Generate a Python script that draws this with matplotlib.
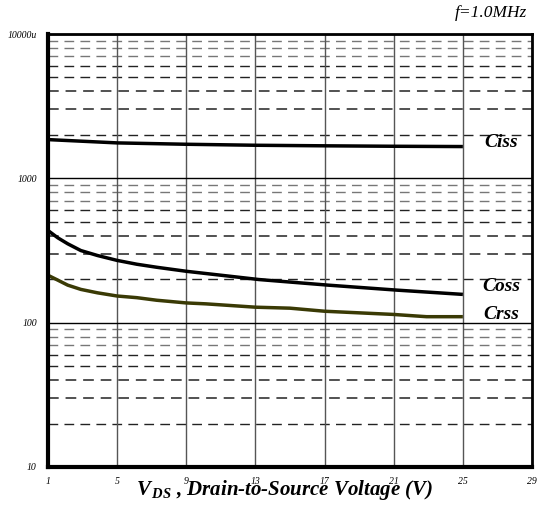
import matplotlib
matplotlib.use("Agg")
import matplotlib.pyplot as plt
import numpy as np
from matplotlib.ticker import FixedLocator, NullFormatter

plt.rcParams['mathtext.fontset'] = 'custom'
plt.rcParams['mathtext.it'] = 'Liberation Serif:italic:bold'
plt.rcParams['mathtext.rm'] = 'Liberation Serif:italic:bold'

# Data
vds_ciss = [1, 5, 9, 13, 17, 21, 25]
ciss = [1855, 1760, 1722, 1695, 1680, 1668, 1660]

vds_coss = [1, 1.57, 2.14, 2.9, 3.86, 5, 6.14, 7.29, 9, 10.14, 13.2, 17.2, 21.2, 25]
coss = [435, 387, 352, 316, 292, 270, 254, 242, 227, 219, 199, 182, 168, 157]

vds_crss = [1, 1.57, 2.14, 2.9, 3.86, 5, 6.14, 7.29, 9, 10.14, 13, 15, 17, 21, 22.9, 25]
crss = [213, 197, 182, 170, 161, 153, 149, 143, 137, 135, 128, 126, 120, 114, 110, 110]

x_ticks = [1, 5, 9, 13, 17, 21, 25, 29]
y_major = [10, 100, 1000, 10000]
y_labels = ['10', '100', '1000', '10000u']

fig = plt.figure(figsize=(5.47, 5.07), dpi=100)
ax = fig.add_axes([48/547, 1-467/507, (532-48)/547, (467-34)/507])
ax.set_yscale('log')
ax.set_xlim(1, 29)
ax.set_ylim(10, 10000)

serif = 'Liberation Serif'

ax.set_xticks(x_ticks)
ax.set_xticklabels([str(v) for v in x_ticks], fontfamily=serif, fontstyle='italic', fontsize=7)
ax.set_yticks(y_major)
ax.set_yticklabels(y_labels, fontfamily=serif, fontstyle='italic', fontsize=7)
ax.yaxis.set_minor_locator(FixedLocator([m * d for d in [10, 100, 1000] for m in range(2, 10)]))
ax.yaxis.set_minor_formatter(NullFormatter())
ax.tick_params(axis='both', which='both', length=0)
ax.tick_params(axis='x', pad=7)
ax.tick_params(axis='y', pad=8)

# grids
ax.xaxis.grid(True, which='major', color='#555555', linewidth=1.0, linestyle='-')
ax.yaxis.grid(True, which='major', color='black', linewidth=1.0, linestyle='-')
for val in ax.yaxis.get_minorticklocs():
    lead = round(val / 10 ** np.floor(np.log10(val) + 1e-9))
    if lead >= 7:
        ax.axhline(val, color='#777777', linewidth=1.0, linestyle=(0, (7, 4.5)), zorder=0.5)
    else:
        ax.axhline(val, color='#222222', linewidth=1.1 if lead in (3, 4) else 1.0,
                   linestyle=(0, (7, 4.5)), zorder=0.5)
ax.set_axisbelow(True)

for side, lw in [('left', 3), ('bottom', 3), ('top', 2), ('right', 2)]:
    ax.spines[side].set_linewidth(lw)
    ax.spines[side].set_color('black')

ax.plot(vds_ciss, ciss, color='black', linewidth=2.5, solid_capstyle='butt')
ax.plot(vds_coss, coss, color='black', linewidth=2.5, solid_capstyle='butt')
ax.plot(vds_crss, crss, color='#3a3a05', linewidth=2.5, solid_capstyle='butt')

lab_kw = dict(fontfamily=serif, fontstyle='italic', fontweight='bold', fontsize=14,
              ha='center', va='center')
ax.text(27.2, 1770, 'Ciss', **lab_kw)
ax.text(27.2, 177, 'Coss', **lab_kw)
ax.text(27.2, 114, 'Crss', **lab_kw)

fig.text(527/547, 1-13/507, 'f=1.0MHz', fontfamily=serif, fontstyle='italic',
         fontsize=12.5, ha='right', va='center')

fig.text(285/547, 1-490/507, r'$V_{\,DS}$ , Drain-to-Source Voltage (V)', fontfamily=serif,
         fontstyle='italic', fontweight='bold', fontsize=15, ha='center', va='center')

fig.savefig('out.png', dpi=100)
